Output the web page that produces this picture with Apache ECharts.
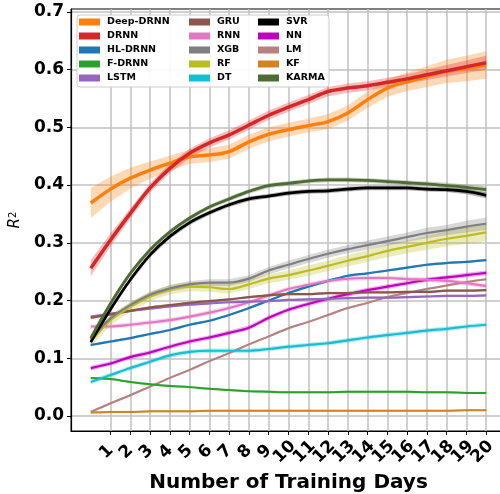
<!DOCTYPE html>
<html><head><meta charset="utf-8">
<script src="https://cdn.jsdelivr.net/npm/echarts@6.0.0/dist/echarts.min.js"></script>
<style>html,body{margin:0;padding:0;background:#fff}#c{width:500px;height:494px}</style>
</head><body><div id="c"></div><script>
const days = [0,1,2,3,4,5,6,7,8,9,10,11,12,13,14,15,16,17,18,19,20];
const tickDays = [1,2,3,4,5,6,7,8,9,10,11,12,13,14,15,16,17,18,19,20];
const yTicks = [0, 0.1, 0.2, 0.3, 0.4, 0.5, 0.6, 0.7];

const deepDRNN = [0.369,0.393,0.412,0.426,0.438,0.449,0.452,0.458,0.475,0.488,0.496,0.503,0.510,0.525,0.548,0.568,0.579,0.588,0.597,0.602,0.608];
const drnn     = [0.256,0.305,0.351,0.395,0.429,0.455,0.473,0.487,0.504,0.521,0.535,0.548,0.562,0.568,0.572,0.578,0.584,0.591,0.598,0.605,0.612];
const hlDRNN   = [0.123,0.129,0.135,0.142,0.149,0.158,0.165,0.175,0.187,0.200,0.213,0.224,0.234,0.243,0.247,0.252,0.257,0.262,0.265,0.267,0.270];
const fDRNN    = [0.066,0.064,0.059,0.055,0.052,0.050,0.047,0.045,0.043,0.042,0.041,0.041,0.041,0.042,0.042,0.042,0.042,0.041,0.041,0.040,0.040];
const lstm     = [0.172,0.177,0.182,0.186,0.190,0.193,0.195,0.197,0.198,0.199,0.201,0.202,0.203,0.204,0.205,0.205,0.206,0.207,0.208,0.208,0.209];
const gru      = [0.170,0.176,0.182,0.188,0.192,0.196,0.199,0.202,0.206,0.209,0.211,0.211,0.213,0.213,0.214,0.214,0.215,0.215,0.217,0.217,0.218];
const rnn      = [0.155,0.155,0.158,0.162,0.166,0.172,0.179,0.187,0.197,0.209,0.220,0.227,0.234,0.238,0.239,0.239,0.237,0.236,0.234,0.230,0.225];
const xgb      = [0.133,0.169,0.192,0.210,0.221,0.228,0.231,0.231,0.238,0.252,0.262,0.272,0.281,0.289,0.296,0.303,0.310,0.317,0.322,0.328,0.333];
const rf       = [0.129,0.166,0.189,0.207,0.219,0.224,0.223,0.220,0.228,0.238,0.244,0.252,0.260,0.269,0.277,0.286,0.293,0.300,0.307,0.312,0.318];
const dt       = [0.059,0.071,0.083,0.094,0.105,0.111,0.113,0.113,0.113,0.116,0.120,0.123,0.126,0.131,0.136,0.140,0.144,0.148,0.151,0.155,0.158];
const svr      = [0.128,0.185,0.236,0.279,0.311,0.335,0.352,0.366,0.376,0.381,0.386,0.389,0.390,0.393,0.395,0.395,0.395,0.393,0.392,0.389,0.382];
const nn       = [0.083,0.091,0.102,0.110,0.120,0.129,0.136,0.144,0.153,0.170,0.184,0.194,0.203,0.211,0.218,0.224,0.230,0.236,0.240,0.244,0.248];
const lm       = [0.007,0.022,0.036,0.051,0.066,0.080,0.095,0.109,0.124,0.138,0.152,0.163,0.175,0.187,0.196,0.206,0.213,0.220,0.226,0.232,0.237];
const kf       = [0.006,0.007,0.007,0.008,0.008,0.008,0.009,0.009,0.009,0.009,0.009,0.009,0.009,0.009,0.009,0.009,0.009,0.009,0.009,0.010,0.010];
const karma    = [0.135,0.195,0.247,0.288,0.319,0.343,0.362,0.376,0.389,0.399,0.403,0.407,0.409,0.409,0.408,0.406,0.404,0.402,0.399,0.396,0.392];

// half-widths of the shaded bands
const deepBand  = [0.026,0.022,0.018,0.015,0.013,0.012,0.012,0.012,0.012,0.012,0.012,0.012,0.013,0.013,0.014,0.015,0.016,0.018,0.020,0.022,0.024];
const drnnBand  = [0.014,0.011,0.009,0.008,0.008,0.008,0.008,0.008,0.008,0.008,0.008,0.008,0.008,0.008,0.008,0.008,0.008,0.009,0.010,0.011,0.012];
const xgbBand   = [0.006,0.005,0.005,0.005,0.006,0.006,0.006,0.006,0.006,0.006,0.007,0.007,0.007,0.007,0.008,0.008,0.008,0.009,0.009,0.010,0.011];
const rfBand    = [0.010,0.009,0.008,0.008,0.008,0.008,0.008,0.008,0.008,0.008,0.008,0.009,0.009,0.010,0.010,0.011,0.011,0.012,0.013,0.014,0.015];
const karmaBand = [0.006,0.005,0.004,0.004,0.004,0.004,0.004,0.004,0.004,0.004,0.004,0.004,0.004,0.004,0.004,0.004,0.004,0.004,0.005,0.005,0.006];
const svrBand   = [0.005,0.004,0.004,0.004,0.004,0.004,0.004,0.004,0.004,0.004,0.004,0.004,0.004,0.004,0.004,0.004,0.004,0.004,0.004,0.005,0.005];
const thinBand  = [0.004,0.004,0.004,0.004,0.004,0.004,0.004,0.004,0.004,0.004,0.004,0.004,0.004,0.004,0.004,0.004,0.004,0.004,0.004,0.004,0.004];
const fineBand  = [0.002,0.002,0.002,0.002,0.002,0.002,0.002,0.002,0.002,0.002,0.002,0.002,0.002,0.002,0.002,0.002,0.002,0.002,0.002,0.002,0.002];

const models = [
  // name, values, band, color, line width  (drawing order)
  ['KF', kf, fineBand, '#d18321', 2],
  ['LM', lm, fineBand, '#b5807e', 2],
  ['F-DRNN', fDRNN, fineBand, '#2ca02c', 2],
  ['DT', dt, thinBand, '#17becf', 2.2],
  ['NN', nn, thinBand, '#bf00bf', 2.2],
  ['HL-DRNN', hlDRNN, fineBand, '#1f77b4', 2.2],
  ['RNN', rnn, thinBand, '#e377c2', 2.2],
  ['LSTM', lstm, fineBand, '#9467bd', 2.2],
  ['GRU', gru, fineBand, '#8c564b', 2.2],
  ['RF', rf, rfBand, '#bcbd22', 2.2],
  ['XGB', xgb, xgbBand, '#7f7f7f', 2.2],
  ['SVR', svr, svrBand, '#000000', 2.8],
  ['KARMA', karma, karmaBand, '#4f6b35', 2.8],
  ['Deep-DRNN', deepDRNN, deepBand, '#ff7f0e', 3.5],
  ['DRNN', drnn, drnnBand, '#d62728', 3.5]
];

const series = [];
models.forEach(([name, vals, band, color]) => {
  const rows = days.map((d,i)=>[d, vals[i]-band[i], vals[i]+band[i]]);
  series.push({type:'custom', name:name+' band', silent:true, z:1, clip:true,
    encode:{x:0, y:[1,2]}, data: rows,
    renderItem: function(params, api){
      if (params.dataIndex !== 0) return null;
      const up = rows.map(r => api.coord([r[0], r[2]]));
      const lo = rows.map(r => api.coord([r[0], r[1]])).reverse();
      return {type:'polygon', shape:{points: up.concat(lo)}, style:{fill:color, opacity:0.3}};
    }});
});
models.forEach(([name, vals, band, color, w]) => {
  series.push({type:'line', name:name, smooth:0.35, symbol:'none', silent:true,
    data: days.map((d,i)=>[d, vals[i]]), itemStyle:{color:color}, lineStyle:{color:color, width:w}, z:3, emphasis:{disabled:true}});
});

const legendCols = [
  ['Deep-DRNN','DRNN','HL-DRNN','F-DRNN','LSTM'],
  ['GRU','RNN','XGB','RF','DT'],
  ['SVR','NN','LM','KF','KARMA']
];
const legendLeft = [79, 189, 258];
const legends = legendCols.map((col, k) => ({
  data: col, orient:'vertical', left: legendLeft[k], top: 15, padding:0, itemGap:0,
  icon:'rect', itemWidth:21, itemHeight:7, z:60, selectedMode:false,
  textStyle:{fontFamily:'DejaVu Sans', fontWeight:'bold', fontSize:9.5, color:'#000', lineHeight:14, padding:[0,0,0,2]}
}));

const chart = echarts.init(document.getElementById('c'), null, {renderer:'canvas'});
chart.setOption({
  animation:false,
  backgroundColor:'#fff',
  textStyle:{fontFamily:'DejaVu Sans'},
  grid:{left:71, top:9, width:435, height:422, outerBoundsMode:'none', containLabel:false, show:true, borderColor:'#000', borderWidth:1, backgroundColor:'transparent'},
  xAxis:{type:'value', min:-1, max:21,
    axisLine:{show:true, onZero:false, lineStyle:{color:'#000', width:1.2}},
    axisTick:{show:true, customValues:tickDays, length:4, lineStyle:{color:'#000'}},
    axisLabel:{customValues:tickDays.concat([21]), formatter:v => (v > 20 ? '' : String(v)),
      rotate:45, align:'center', verticalAlign:'middle', padding:[0,11,0,0],
      fontSize:17, fontWeight:'bold', color:'#000', margin:17, hideOverlap:false},
    splitLine:{show:true, lineStyle:{color:'#c0c0c0', width:1.5}},
    name:'Number of Training Days', nameLocation:'middle', nameGap:36,
    nameTextStyle:{fontSize:20, fontWeight:'bold', color:'#000'}},
  yAxis:{type:'value', min:-0.026, max:0.705,
    axisLine:{show:true, onZero:false, lineStyle:{color:'#000', width:1.2}},
    axisTick:{show:true, customValues:yTicks, length:4, lineStyle:{color:'#000'}},
    axisLabel:{customValues:yTicks, formatter:v=>v.toFixed(1), fontSize:17, fontWeight:'bold', color:'#000', margin:7},
    splitLine:{show:true, lineStyle:{color:'#c0c0c0', width:1.5}},
    name:'{i|R}{s|2}', nameLocation:'middle', nameGap:43, nameRotate:90,
    nameTextStyle:{rich:{i:{fontStyle:'italic', fontSize:15, color:'#000'}, s:{fontSize:10, color:'#000', verticalAlign:'top'}}}},
  legend: legends,
  graphic:[{type:'rect', shape:{x:77, y:15, width:252, height:72, r:3}, style:{fill:'rgba(255,255,255,0.9)', stroke:'#cccccc', lineWidth:1}, z:50, silent:true}],
  series: series
});
</script></body></html>
